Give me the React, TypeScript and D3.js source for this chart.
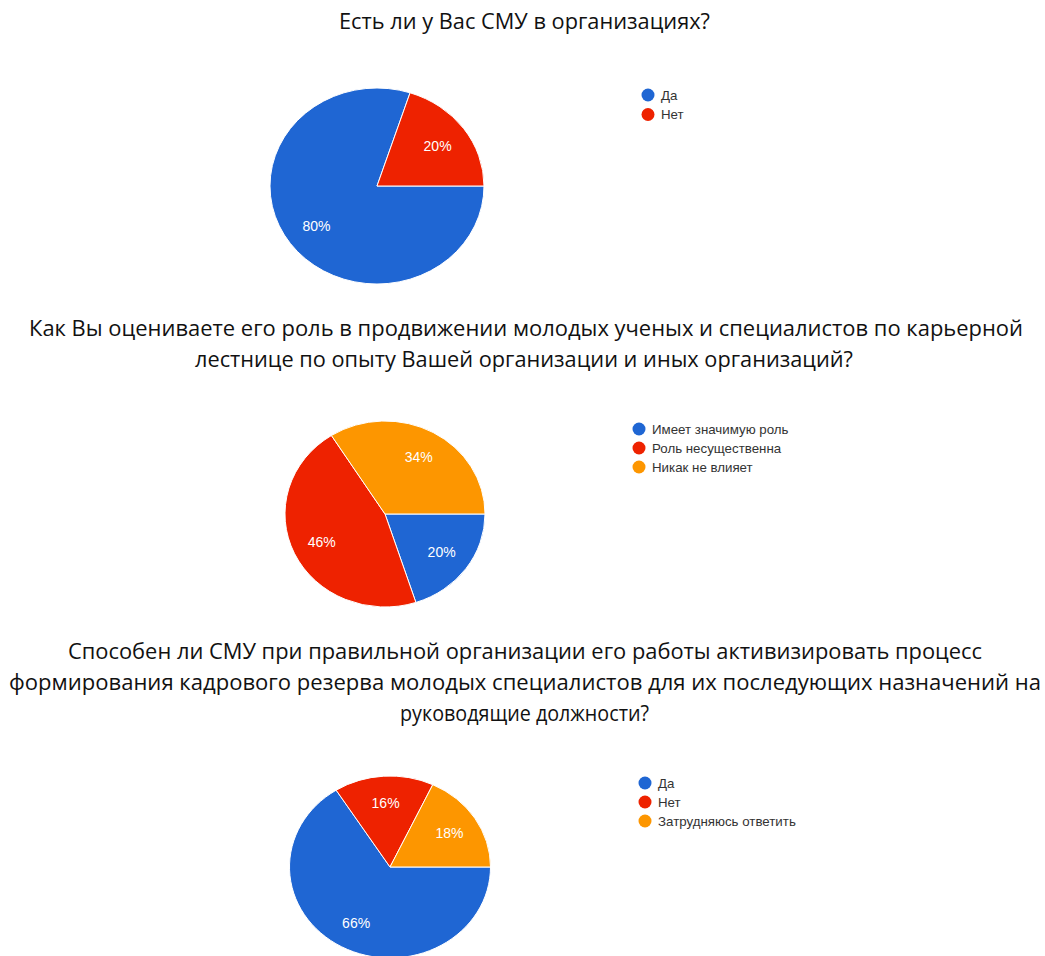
import React from "react";
import * as d3 from "d3";

// ---------- data ----------
const title1Lines = ["Есть ли у Вас СМУ в организациях?"];
const labels1 = ["Да", "Нет"];
const values1 = [80, 20];

const title2Lines = [
  "Как Вы оцениваете его роль в продвижении молодых ученых и специалистов по карьерной",
  "лестнице по опыту Вашей организации и иных организаций?",
];
const labels2 = ["Имеет значимую роль", "Роль несущественна", "Никак не влияет"];
const values2 = [20, 46, 34];

const title3Lines = [
  "Способен ли СМУ при правильной организации его работы активизировать процесс",
  "формирования кадрового резерва молодых специалистов для их последующих назначений на",
  "руководящие должности?",
];
const labels3 = ["Да", "Нет", "Затрудняюсь ответить"];
const values3 = [66, 16, 18];

const colors = ["#1f66d3", "#ee2200", "#fd9600"];

// ---------- layout ----------
const W = 1045;
const H = 956;

const charts = [
  {
    title: title1Lines,
    labels: labels1,
    values: values1,
    titleY: [29],
    titleX: [[339, 710]],
    cx: 377, cy: 186, rx: 107, ry: 98,
    legX: 648, legY: 95, legStep: 19.5,
  },
  {
    title: title2Lines,
    labels: labels2,
    values: values2,
    titleY: [336, 367],
    titleX: [[29, 1023], [195, 853]],
    cx: 385, cy: 514, rx: 100, ry: 93,
    legX: 639, legY: 429, legStep: 19,
  },
  {
    title: title3Lines,
    labels: labels3,
    values: values3,
    titleY: [659, 690, 721],
    titleX: [[68, 982], [9, 1041], [400, 649]],
    cx: 390, cy: 867, rx: 100.5, ry: 91,
    legX: 645, legY: 783, legStep: 19,
  },
];

const pieGen = d3
  .pie<number>()
  .sort(null)
  .value((d) => d)
  .startAngle(Math.PI / 2)
  .endAngle(Math.PI / 2 + 2 * Math.PI);

function PieBlock({ c }: { c: (typeof charts)[number] }) {
  const arcs = pieGen(c.values);
  const arcGen = d3.arc<d3.PieArcDatum<number>>().innerRadius(0).outerRadius(c.rx);
  const labelArc = d3
    .arc<d3.PieArcDatum<number>>()
    .innerRadius(c.rx * 0.7)
    .outerRadius(c.rx * 0.7);
  const sy = c.ry / c.rx;
  const total = d3.sum(c.values);
  return (
    <g>
      {c.title.map((line, i) => {
        const [x0, x1] = c.titleX[i];
        return (
          <text
            key={"t" + i}
            x={(x0 + x1) / 2}
            y={c.titleY[i]}
            textAnchor="middle"
            fontFamily="'Open Sans', 'Noto Sans', sans-serif"
            fontSize={21}
            fill="#111"
            textLength={x1 - x0}
            lengthAdjust="spacingAndGlyphs"
          >
            {line}
          </text>
        );
      })}
      <g transform={`translate(${c.cx},${c.cy}) scale(1,${sy})`}>
        {arcs.map((a, i) => (
          <path
            key={"p" + i}
            d={arcGen(a) || ""}
            fill={colors[i]}
            stroke="#ffffff"
            strokeWidth={1}
            vectorEffect="non-scaling-stroke"
          />
        ))}
      </g>
      <g transform={`translate(${c.cx},${c.cy})`}>
        {arcs.map((a, i) => {
          const [lx, ly] = labelArc.centroid(a);
          return (
            <text
              key={"l" + i}
              x={lx}
              y={ly * sy}
              dy="0.35em"
              textAnchor="middle"
              fontFamily="Arial, 'Liberation Sans', sans-serif"
              fontSize={14}
              fill="#ffffff"
            >
              {Math.round((a.value / total) * 100) + "%"}
            </text>
          );
        })}
      </g>
      <g>
        {c.labels.map((lab, i) => (
          <g key={"g" + i} transform={`translate(${c.legX},${c.legY + i * c.legStep})`}>
            <circle r={6.5} fill={colors[i]} />
            <text
              x={13}
              dy="0.36em"
              fontFamily="Arial, 'Liberation Sans', sans-serif"
              fontSize={13.3}
              fill="#333"
            >
              {lab}
            </text>
          </g>
        ))}
      </g>
    </g>
  );
}

export default function App() {
  return (
    <svg
      width={W}
      height={H}
      style={{ position: "absolute", left: 0, top: 0, background: "#fff" }}
    >
      <rect width={W} height={H} fill="#fff" />
      {charts.map((c, i) => (
        <PieBlock key={i} c={c} />
      ))}
    </svg>
  );
}
